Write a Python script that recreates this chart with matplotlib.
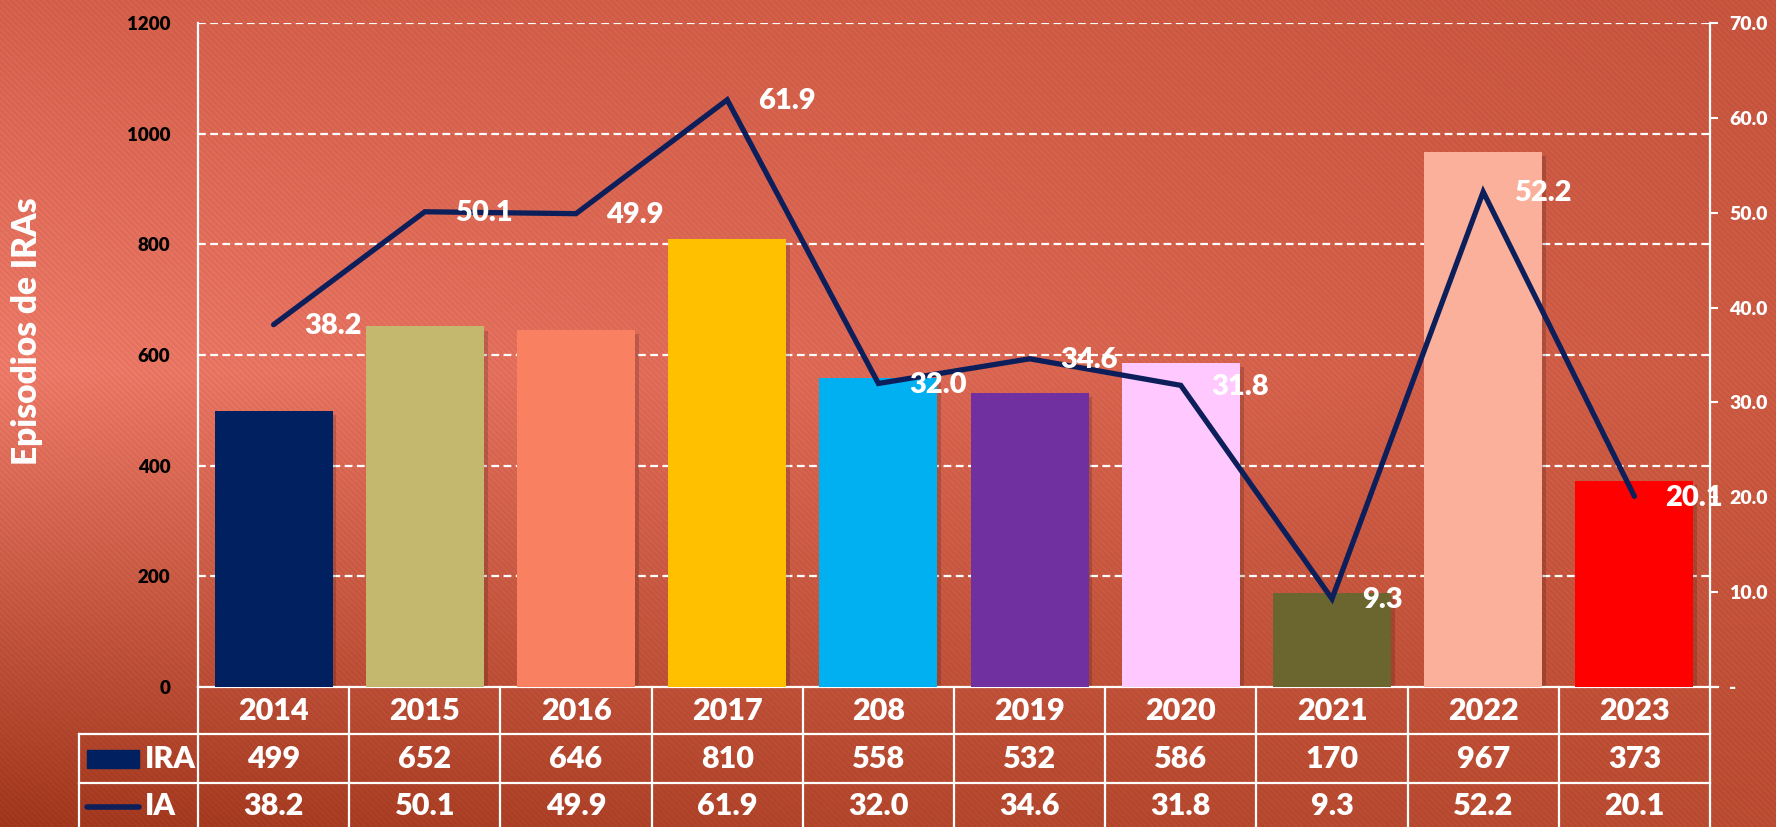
import matplotlib
matplotlib.use("Agg")
import matplotlib.pyplot as plt
import matplotlib.transforms as mtransforms
import numpy as np

# data
years = ["2014", "2015", "2016", "2017", "208", "2019", "2020", "2021", "2022", "2023"]
ira = [499, 652, 646, 810, 558, 532, 586, 170, 967, 373]
ia = [38.2, 50.1, 49.9, 61.9, 32.0, 34.6, 31.8, 9.3, 52.2, 20.1]
bar_colors = ["#002060", "#C4B76E", "#F98061", "#FFC000", "#00B0F0",
              "#7030A0", "#FFC8FF", "#6B6530", "#FBB09B", "#FF0000"]
line_color = "#0C1F5A"

plt.rcParams['font.family'] = ['Lato', 'DejaVu Sans']
FW = 'heavy'

W, H = 1776, 827
fig = plt.figure(figsize=(W / 100, H / 100), dpi=100)

# background: smooth gradient from a few anchor colours + faint diagonal stripes
gx = np.array([0.0, 0.5, 1.0])
gy = np.array([0.0, 0.45, 1.0])
anchors = np.array([
    [[212, 96, 76], [208, 92, 70], [198, 84, 62]],
    [[236, 122, 104], [220, 104, 84], [204, 90, 66]],
    [[160, 54, 28], [178, 70, 44], [186, 76, 50]],
]) / 255.0
yy, xx = np.mgrid[0:H, 0:W]
u = np.linspace(0, 1, W)
v = np.linspace(0, 1, H)
img = np.zeros((H, W, 3))
for c in range(3):
    rows = np.array([np.interp(u, gx, anchors[i, :, c]) for i in range(3)])
    img[..., c] = np.array([np.interp(v, gy, rows[:, j]) for j in range(W)]).T
stripes = 0.03 * np.sin((xx - yy) * 2 * np.pi / 6.0)
img = np.clip(img * (1 + stripes[..., None]), 0, 1)
bg = fig.add_axes([0, 0, 1, 1], zorder=-5)
bg.imshow(img, aspect='auto', extent=(0, 1, 0, 1), origin='upper')
bg.axis('off')

left, right = 198 / W, 1710 / W
bottom, top = 1 - 687 / H, 1 - 23 / H
ax = fig.add_axes([left, bottom, right - left, top - bottom])
ax.set_facecolor('none')
x = np.arange(len(years))

# bar shadows then bars
ax.bar(x + 0.025, ira, width=0.78, color='black', alpha=0.16, zorder=2,
       bottom=-8)
ax.bar(x, ira, width=0.78, color=bar_colors, zorder=3)

ax.set_xlim(-0.5, len(years) - 0.5)
ax.set_ylim(0, 1200)
ax.set_yticks(np.arange(0, 1201, 200))
ax.set_yticklabels([str(v) for v in range(0, 1201, 200)],
                   fontsize=13.5, color='black', fontweight=FW)
ax.tick_params(axis='y', length=0, pad=20)
ax.set_xticks([])
for v in range(200, 1201, 200):
    ax.axhline(v, color='white', lw=1.6, dashes=(3.5, 2), zorder=1)
for s in ['top', 'right']:
    ax.spines[s].set_visible(False)
ax.spines['left'].set_color('white')
ax.spines['left'].set_linewidth(1.6)
ax.spines['bottom'].set_visible(False)
ax.set_ylabel("Episodios de IRAs", color='white', fontsize=24, fontweight=FW)
ax.yaxis.set_label_coords(-0.1025, 0.536)

ax2 = ax.twinx()
ax2.set_ylim(0, 70)
ax2.set_yticks(np.arange(0, 71, 10))
ax2.set_yticklabels(["-"] + [f"{v:.1f}" for v in range(10, 71, 10)],
                    fontsize=14, color='white', fontweight=FW)
ax2.tick_params(axis='y', colors='white', length=6, width=1.5, pad=8)
for s in ['top', 'left', 'bottom']:
    ax2.spines[s].set_visible(False)
ax2.spines['right'].set_color('white')
ax2.spines['right'].set_linewidth(1.6)
ax2.plot(x, ia, color=line_color, lw=3.8, zorder=5, solid_joinstyle='miter',
         solid_capstyle='round')
for xi, v in zip(x, ia):
    ax2.annotate(f"{v:.1f}", (xi, v), xytext=(22, -1), textcoords='offset points',
                 ha='left', va='center', color='white', fontsize=21,
                 fontweight=FW, zorder=6)

# data table under the plot
tr = mtransforms.blended_transform_factory(ax.transData, ax.transAxes)
axh = 687 - 23
def ya(px):
    return (687 - px) / axh

y0, y1, y2, y3 = ya(687), ya(734), ya(783), ya(835)
xl = -0.5 - 119 / 151.2
lw = 1.6
ax.plot([-0.5, len(years) - 0.45], [y0, y0], color='white', lw=lw, transform=tr, clip_on=False)
ax.plot([xl, len(years) - 0.5], [y1, y1], color='white', lw=lw, transform=tr, clip_on=False)
ax.plot([xl, len(years) - 0.5], [y2, y2], color='white', lw=lw, transform=tr, clip_on=False)
for b in np.arange(-0.5, len(years), 1.0):
    ax.plot([b, b], [y0, y3], color='white', lw=lw, transform=tr, clip_on=False)
ax.plot([xl, xl], [y1, y3], color='white', lw=lw, transform=tr, clip_on=False)

for xi in x:
    ax.text(xi, (y0 + y1) / 2, years[xi], transform=tr, ha='center', va='center',
            color='white', fontsize=22, fontweight=FW)
    ax.text(xi, (y1 + y2) / 2, str(ira[xi]), transform=tr, ha='center', va='center',
            color='white', fontsize=22, fontweight=FW)
    ax.text(xi, (y2 + y3) / 2 + 0.004, f"{ia[xi]:.1f}", transform=tr, ha='center',
            va='center', color='white', fontsize=22, fontweight=FW)

# legend keys inside table
kx0 = -0.5 - 111 / 151.2
kx1 = -0.5 - 59 / 151.2
ax.add_patch(plt.Rectangle((kx0, ya(768)), kx1 - kx0, ya(750) - ya(768),
                           color=bar_colors[0], transform=tr, clip_on=False))
ax.plot([kx0, kx1], [ya(807), ya(807)], color=line_color, lw=4,
        solid_capstyle='round', transform=tr, clip_on=False)
ax.text(-0.5 - 53 / 151.2, (y1 + y2) / 2, "IRA", transform=tr, ha='left',
        va='center', color='white', fontsize=22, fontweight=FW)
ax.text(-0.5 - 53 / 151.2, (y2 + y3) / 2 + 0.004, "IA", transform=tr, ha='left',
        va='center', color='white', fontsize=22, fontweight=FW)

fig.savefig("out.png", dpi=100)
